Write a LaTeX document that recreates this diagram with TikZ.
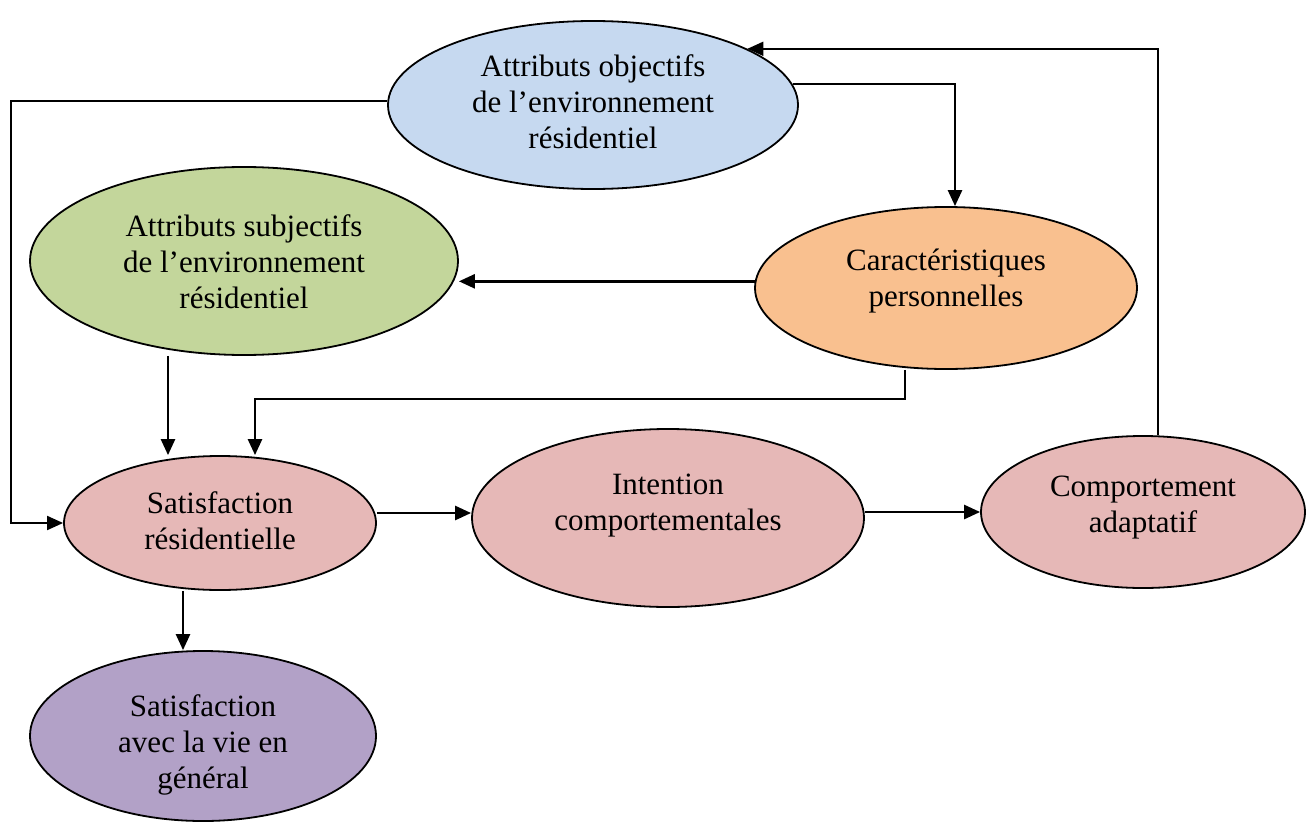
\documentclass[tikz,border=0pt]{standalone}
\usepackage{fontspec}
\setmainfont{Liberation Serif}
\usetikzlibrary{shapes.geometric,arrows.meta}

\definecolor{objblue}{RGB}{198,217,240}
\definecolor{subjgreen}{RGB}{195,214,155}
\definecolor{persorange}{RGB}{249,192,143}
\definecolor{satpink}{RGB}{230,184,183}
\definecolor{viepurple}{RGB}{178,161,199}

% text of an oval, raised or lowered by the optional amount
\newcommand{\ovaltext}[2][0pt]{\raisebox{#1}[0pt][0pt]{\begin{tabular}{@{}c@{}}#2\end{tabular}}}

\tikzset{
  oval/.style={ellipse, draw, line width=1.8pt, inner sep=0pt,
    font=\fontsize{31}{36}\selectfont},
  flow/.style={line width=2.6pt, -{Triangle[length=16pt,width=14pt]}},
  thinflow/.style={flow, line width=1.9pt},
}

\begin{document}
\begin{tikzpicture}[x=1pt,y=-1pt]
\useasboundingbox (0,0) rectangle (1311,824);

% the ovals
\node[oval, fill=objblue, minimum width=410pt, minimum height=168pt] (ao) at (593,105)
  {\ovaltext[-7pt]{Attributs objectifs\\de l'environnement\\résidentiel}};
\node[oval, fill=subjgreen, minimum width=428pt, minimum height=188pt] (as) at (244,261)
  {\ovaltext[-11pt]{Attributs subjectifs\\de l'environnement\\résidentiel}};
\node[oval, fill=persorange, minimum width=382pt, minimum height=162pt] (ca) at (946,288)
  {\ovaltext[0pt]{Caractéristiques\\personnelles}};
\node[oval, fill=satpink, minimum width=312pt, minimum height=134pt] (sr) at (220,523)
  {\ovaltext[-8pt]{Satisfaction\\résidentielle}};
\node[oval, fill=satpink, minimum width=392pt, minimum height=178pt] (it) at (668,518)
  {\ovaltext[6pt]{Intention\\comportementales}};
\node[oval, fill=satpink, minimum width=324pt, minimum height=152pt] (cp) at (1143,512)
  {\ovaltext[-2pt]{Comportement\\adaptatif}};
\node[oval, fill=viepurple, minimum width=346pt, minimum height=170pt] (sl) at (203,736)
  {\ovaltext[-16pt]{Satisfaction\\avec la vie en\\général}};

% round the left side, objectifs to satisfaction
\draw[thinflow] (ao.179) -| ([xshift=-52pt]sr.west) -- (sr.west);

% feedback from the behaviour
\draw[thinflow] (cp.79) |- (ao.20);

% objectifs to personal traits
\draw[flow] (ao.6) -| ([xshift=9pt]ca.north);

% personal traits to subjectifs
\draw[flow] (ca.178) -- (ca.178 -| as.east);

% down to satisfaction
\draw[flow] ([xshift=-52pt]sr.north |- as.south) -- ([xshift=-52pt]sr.north);
\draw[flow] ([xshift=-41pt]ca.south) -- ++(0,29) -| ([xshift=35pt]sr.north);

% along the bottom row
\draw[flow] ([yshift=10pt]sr.east) -- ([yshift=10pt]sr.east -| it.west);
\draw[flow] ([yshift=6pt]it.east) -- ([yshift=6pt]it.east -| cp.west);
\draw[flow] ([xshift=-37pt]sr.south) -- ([xshift=-37pt]sr.south |- sl.north);
\end{tikzpicture}
\end{document}
